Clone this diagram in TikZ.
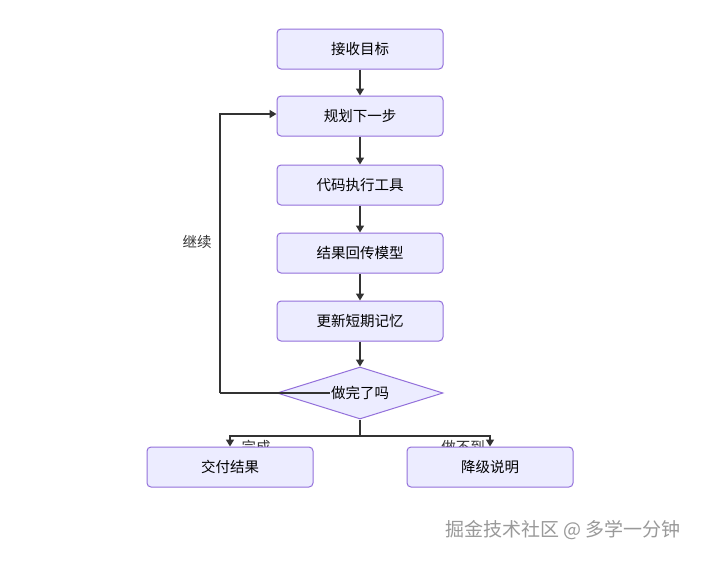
\documentclass[tikz,border=0pt]{standalone}
\usepackage{fontspec}
\setmainfont{Noto Sans CJK SC}
\usetikzlibrary{shapes.geometric,arrows.meta}
\definecolor{boxfill}{HTML}{ECECFF}
\definecolor{boxline}{HTML}{9370DB}
\definecolor{edge}{HTML}{333333}
\begin{document}
\begin{tikzpicture}[x=1pt,y=-1pt,
  box/.style={draw=boxline,fill=boxfill,rounded corners=4pt,minimum width=166pt,minimum height=40pt,line width=1pt,font=\fontsize{14.5}{16}\selectfont,text=black},
  dec/.style={draw=boxline,fill=boxfill,diamond,aspect=3.2,minimum width=166pt,minimum height=52pt,inner sep=0pt,line width=1pt},
  arr/.style={draw=edge,line width=1.5pt,-{Triangle[length=7pt,width=8pt]}},
  lab/.style={font=\fontsize{14.5}{16}\selectfont,text=black!80}]
\useasboundingbox (0,0) rectangle (720,560);
\fill[white] (0,0) rectangle (720,560);
\node[box] (a) at (360,49) {接收目标};
\node[box] (b) at (360,116) {规划下一步};
\node[box] (c) at (360,185) {代码执行工具};
\node[box] (d) at (360,253) {结果回传模型};
\node[box] (e) at (360,321) {更新短期记忆};
\node[lab] (l1) at (197,242) {继续};
\coordinate (loopL) at (220,393);
\coordinate (loopT) at (220,114);
\coordinate (split) at (360,436);
\node[lab] (l2) at (256,447) {完成};
\node[lab] (l3) at (463,447) {做不到};
\node[dec] (f) at (360,393) {};
\coordinate (loopS) at (330,393);
\draw[draw=edge,line width=1.5pt] (loopS) -- (loopL);
\node[font=\fontsize{14.5}{16}\selectfont] (ft) at (f.center) {做完了吗};
\draw[arr] (e) -- (f);
\draw[arr] (loopL) -- (loopT) -- (b.west |- loopT);
\draw[arr] (a) -- (b);
\draw[arr] (b) -- (c);
\draw[arr] (c) -- (d);
\draw[arr] (d) -- (e);
\node[box] (g) at (230,467) {交付结果};
\node[box] (h) at (490,467) {降级说明};
\draw[arr] (f.south) -- (split) -| (g.north);
\draw[arr] (split) -| (h.north);
\node[font=\fontsize{19}{21}\selectfont,text=black!40] (wm) at (563,530) {掘金技术社区 @ 多学一分钟};
\end{tikzpicture}
\end{document}
